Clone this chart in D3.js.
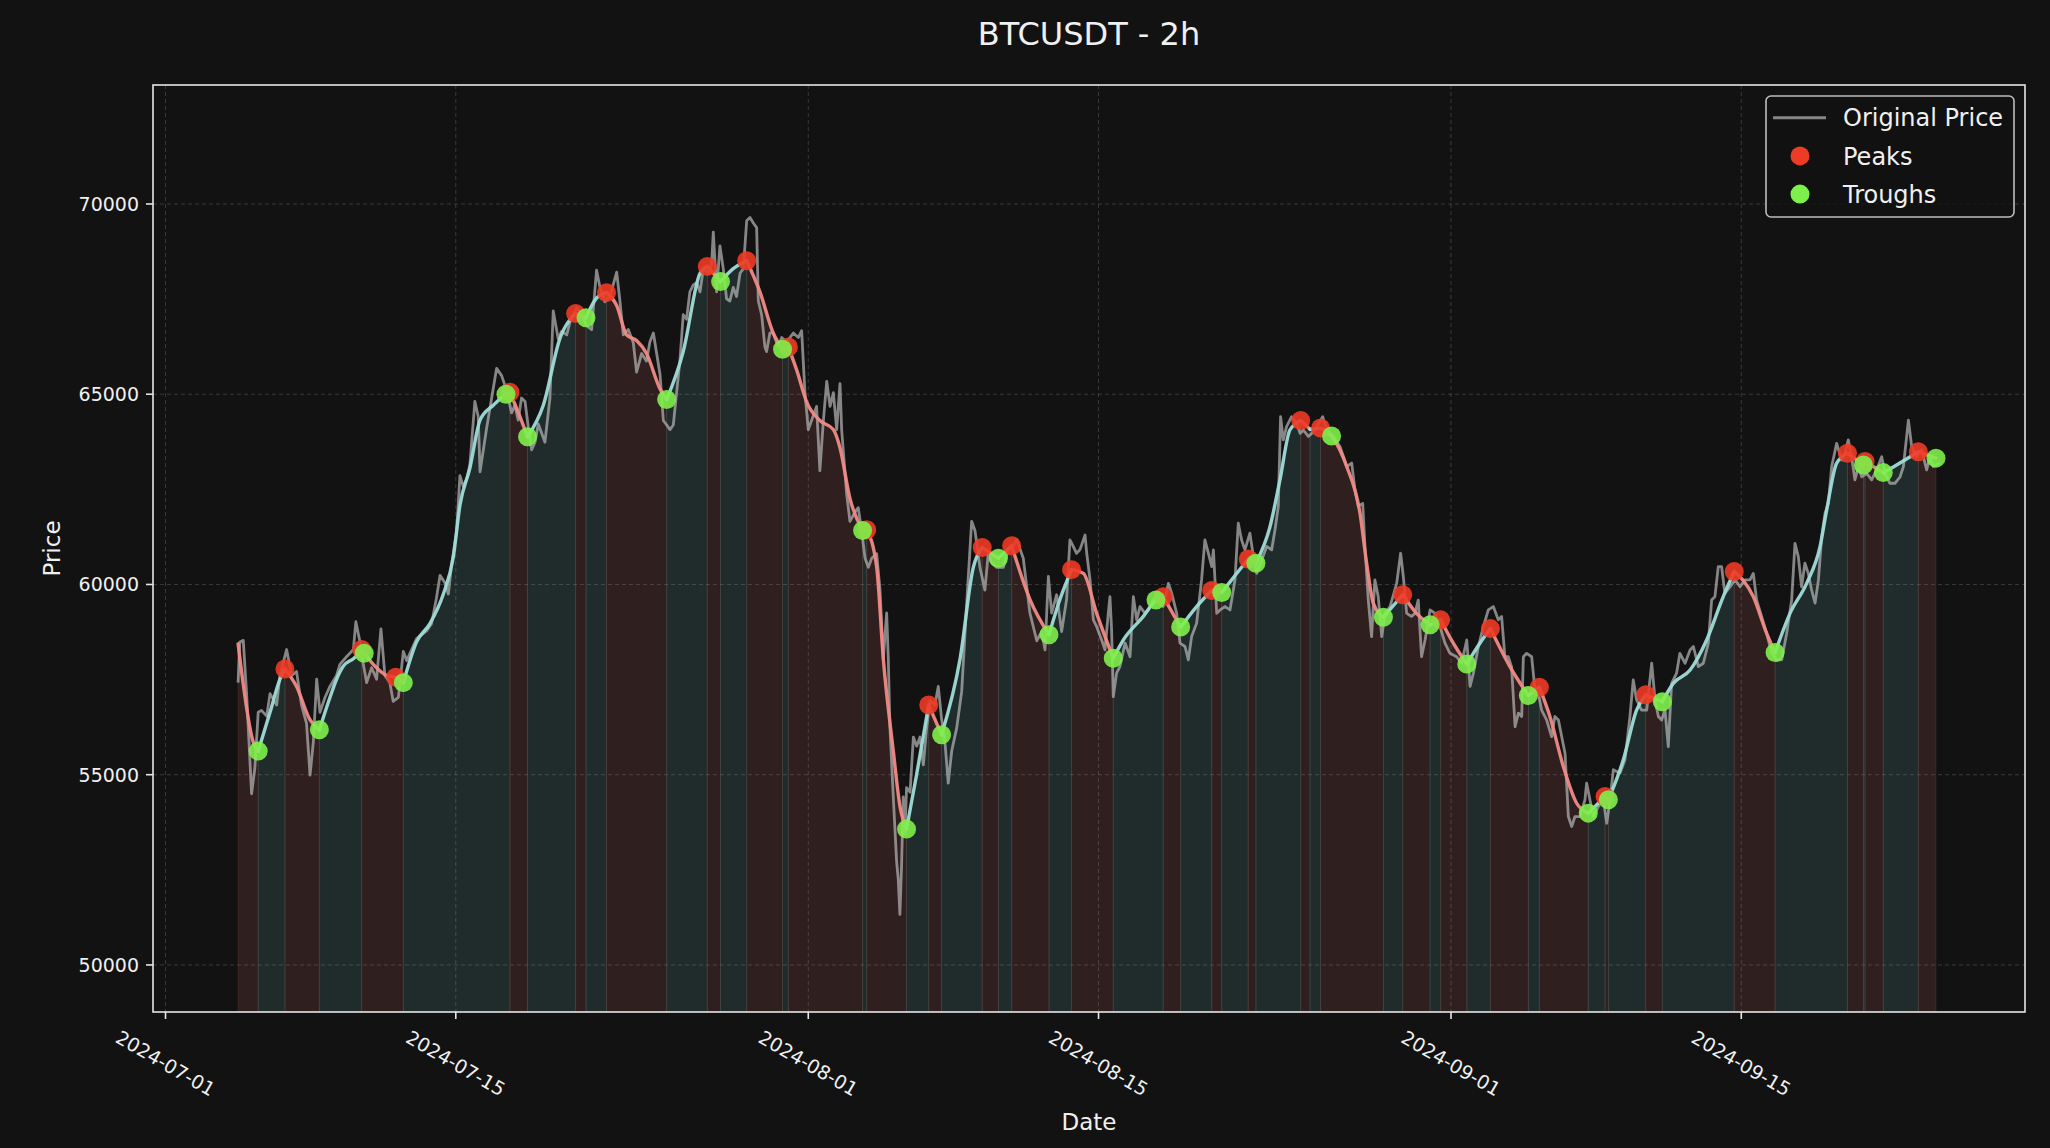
<!DOCTYPE html>
<html><head><meta charset="utf-8">
<script src="https://cdn.jsdelivr.net/npm/d3@7"></script>
<style>
html,body{margin:0;padding:0;background:#121212;}
svg{display:block;font-family:"DejaVu Sans",sans-serif;}
</style></head><body>
<svg id="chart" width="2050" height="1148"></svg>
<script>
// ---------------- data ----------------
const chartTitle = "BTCUSDT - 2h";
const xAxisLabel = "Date";
const yAxisLabel = "Price";
const dayZero = "2024-07-01T00:00:00Z"; // all *Days arrays are days since this instant

const priceDays = [3.50,3.58,3.75,3.91,4.15,4.31,4.47,4.63,4.88,5.04,5.36,5.52,5.84,6.08,6.32,6.56,6.80,6.97,7.13,7.29,7.45,7.69,7.93,8.25,8.41,8.73,9.06,9.18,9.38,9.54,9.70,9.94,10.18,10.39,10.58,10.82,10.98,11.23,11.47,11.63,11.87,12.11,12.35,12.59,12.83,13.07,13.24,13.48,13.64,13.80,14.04,14.20,14.36,14.52,14.68,14.92,15.08,15.17,15.33,15.49,15.73,15.97,16.21,16.45,16.69,16.85,17.01,17.17,17.34,17.50,17.66,17.82,17.98,18.30,18.54,18.70,18.94,19.10,19.35,19.51,19.83,20.07,20.31,20.55,20.79,20.95,21.19,21.44,21.76,21.92,22.08,22.32,22.56,22.72,22.96,23.20,
23.36,23.53,23.85,24.01,24.17,24.33,24.49,24.65,24.81,24.97,25.13,25.29,25.45,25.62,25.78,25.94,26.18,26.34,26.42,26.58,26.74,26.90,27.06,27.22,27.38,27.54,27.71,27.87,28.03,28.19,28.35,28.51,28.59,28.75,28.91,28.99,29.15,29.31,29.55,29.72,29.96,30.28,30.52,30.68,30.84,31.00,31.16,31.40,31.56,31.73,31.89,32.05,32.21,32.37,32.53,32.61,32.85,33.01,33.25,33.41,33.57,33.74,33.90,34.06,34.30,34.46,34.62,34.78,34.86,34.94,35.10,35.26,35.34,35.42,35.50,35.58,35.66,35.74,35.91,36.07,36.23,36.39,36.55,36.71,36.87,37.11,37.27,37.43,37.59,37.75,37.92,38.16,38.40,38.64,38.88,39.04,39.28,39.52,39.68,39.84,40.09,40.41,40.65,40.81,41.05,41.37,41.69,42.02,42.26,42.42,42.58,42.74,42.98,43.22,43.46,43.62,
43.78,43.94,44.10,44.35,44.43,44.59,44.75,44.91,45.15,45.31,45.47,45.55,45.63,45.71,45.87,46.03,46.28,46.52,46.68,46.84,47.00,47.24,47.40,47.64,47.88,48.12,48.37,48.53,48.77,48.93,49.17,49.33,49.49,49.73,49.97,50.13,50.30,50.46,50.54,50.70,50.86,51.10,51.34,51.58,51.74,51.90,52.06,52.30,52.47,52.63,52.87,53.11,53.35,53.51,53.67,53.78,53.91,54.07,54.31,54.56,54.72,54.88,55.12,55.28,55.52,55.81,56.00,56.32,56.65,56.97,57.21,57.37,57.53,57.74,57.85,58.01,58.17,58.33,58.49,58.66,58.82,59.06,59.38,59.57,59.70,59.86,60.10,60.26,60.42,60.58,60.75,60.99,61.23,61.47,61.71,61.95,62.27,62.51,62.76,62.92,63.08,63.32,63.56,63.80,
64.04,64.28,64.44,64.60,64.76,64.92,65.09,65.25,65.41,65.49,65.65,65.89,66.05,66.21,66.37,66.61,66.85,67.01,67.18,67.34,67.50,67.66,67.82,67.98,68.22,68.46,68.54,68.70,68.86,69.10,69.35,69.51,69.67,69.83,70.15,70.39,70.63,70.79,70.95,71.19,71.44,71.68,71.84,72.00,72.16,72.32,72.48,72.64,72.88,73.04,73.29,73.53,73.69,73.93,74.17,74.41,74.57,74.73,74.89,75.05,75.21,75.46,75.70,75.94,76.18,76.42,76.58,76.74,76.98,77.22,77.47,77.71,77.95,78.19,78.43,78.59,78.75,78.91,79.07,79.23,79.39,79.56,79.72,79.88,80.04,80.20,80.36,80.60,80.84,81.00,81.16,81.32,81.48,81.65,81.81,82.05,82.29,82.53,82.77,82.93,83.17,83.41,83.66,83.82,84.06,84.22,84.46,84.70,84.94,85.10,85.26,85.58];
const priceValues = [57420,58490,58530,57130,54500,55180,56640,56690,56540,57130,56830,57610,58290,57610,57710,56830,56350,54990,55860,57510,56640,57030,57320,57610,57900,58100,58290,59020,58490,57900,57420,57810,57510,58830,57610,57420,56930,57030,58240,58000,58290,58580,58680,58780,58970,59650,60240,60040,59750,60530,61400,62860,62570,62760,63150,64810,64420,62960,63540,64120,64900,65680,65490,65100,64510,64710,64320,64900,64810,64120,63540,63740,64220,63740,64900,67190,66460,66650,66560,66900,67280,67090,66800,66700,68260,67820,67430,67580,68210,67430,66560,66700,66360,65580,66070,65870,
66370,66610,65520,64310,64190,64070,64190,65040,65880,67090,66970,67690,67870,67930,67690,68300,68180,68420,69260,67690,68900,68300,67510,67450,67810,67570,68180,68300,69560,69645,69500,69380,67450,67090,66240,66120,66610,66610,66240,66490,66370,66610,66490,66670,65040,64070,64310,64680,62990,64310,65340,64680,65040,64070,65280,64070,62380,61660,61900,62020,61420,60690,60450,60690,60810,59850,58040,59250,58040,56230,54420,52730,52250,51330,52610,54420,53450,54660,54540,55990,55750,55990,55260,56230,56950,56830,57320,56470,55870,54780,55630,56230,57190,59490,61660,61420,60450,59850,60810,60570,60450,60450,60940,60940,61180,60690,59250,58520,58760,58280,60210,59250,59730,58760,59610,61170,
61000,60820,60910,61300,60820,60120,59070,58890,58540,58280,59240,59680,58810,57050,57670,57840,58460,58100,59680,59070,59420,59240,59330,59590,59770,59420,60030,59770,59240,58460,58370,58020,58630,58980,60120,61170,60820,60470,60910,59240,59330,59420,59330,60120,61610,61170,60910,61350,60730,60290,60640,61000,60910,61430,62050,64410,63800,64150,64410,64240,63970,64060,63890,63970,64150,64410,64060,63890,63620,63100,63190,62480,62050,62130,61000,59590,58630,60120,59680,58630,59240,59420,60030,60820,60210,59240,59160,59240,59590,58100,58540,59330,59240,58890,58460,58190,58100,57930,58540,57320,57670,58370,58890,59330,
59420,59070,59160,58100,58100,57840,56260,56620,56530,58100,58190,58100,57230,57140,56700,56440,56000,56530,56440,56000,55560,53900,53640,53900,53900,54340,54780,54340,53900,54160,54340,53720,54340,55130,55040,55390,56530,57490,56970,56700,56700,57930,56970,56530,56440,56700,55740,57400,57670,58190,57930,58280,58370,57840,57930,58450,59590,59680,60470,60470,59770,59940,60120,59940,60120,60120,60290,59590,59160,58720,58190,58020,58020,58720,59590,61080,60730,59940,60560,60290,59860,59510,60120,61260,61870,62130,63100,63710,63270,63450,63800,63360,62750,63100,62830,62920,62750,63010,63360,62920,62660,62660,62830,63100,64320,63620,63360,63540,63010,63360,63100,63190];

const smoothDays = [3.50,4.23,4.47,5.04,5.52,5.76,6.32,6.97,7.42,7.93,8.25,8.57,9.06,9.46,9.58,10.02,10.66,11.10,11.47,12.11,12.75,13.40,13.88,14.20,14.68,15.17,15.81,16.42,16.61,17.09,17.46,18.22,19.02,19.78,20.28,20.79,21.27,21.76,22.24,22.72,23.20,23.85,24.17,24.97,25.78,26.13,26.77,27.38,28.03,28.67,29.31,29.76,30.04,30.44,30.92,31.56,32.21,32.53,33.01,33.62,33.82,34.30,34.62,35.10,35.42,35.74,36.23,36.81,37.43,38.32,38.96,39.39,40.17,40.81,41.69,42.61,43.14,43.70,44.27,44.91,45.71,46.19,47.16,47.77,48.12,48.96,49.73,50.46,50.94,51.66,52.22,52.59,53.27,53.75,54.23,54.75,55.20,55.71,56.24,56.97,57.61,57.93,58.25,58.74,59.67,60.34,60.99,61.50,62.11,62.76,63.40,63.90,64.84,65.73,66.26,66.77,67.42,68.06,68.62,69.43,69.59,70.31,70.95,71.39,72.19,72.72,73.53,74.33,75.13,75.66,76.58,77.22,77.63,78.35,79.15,79.80,80.12,80.60,81.12,81.89,81.97,82.85,83.49,84.54,85.39];
const smoothValues = [58440,55860,55620,56640,57510,57780,57320,56440,56180,57030,57510,57850,58050,58260,58190,57900,57610,57560,57420,58490,58970,59750,60720,62080,63060,64320,64710,65000,65050,64420,63880,64710,66460,67120,67010,67530,67670,67330,66560,66410,66070,65140,64860,66120,68180,68360,67960,68300,68510,67690,66610,66180,66240,65640,64800,64310,64070,63590,62260,61420,61440,60450,58040,55630,54180,53570,55020,56830,56050,58040,60450,60970,60690,61020,59610,58680,59610,60390,60290,59240,58060,58540,59160,59590,59680,58880,59420,59840,59790,60290,60670,60560,61520,62750,64060,64310,64080,64110,63900,63100,61870,60560,59510,59140,59730,59240,58940,59070,58460,57910,58460,58840,57840,57080,57300,56530,55210,54250,53990,54430,54340,55390,56700,57100,56920,57400,57750,58540,59680,60340,59680,58720,58210,59240,60030,61000,61960,63190,63450,63140,63230,62940,63140,63490,63320];

const peakDays = [5.76,9.46,11.10,16.61,19.78,21.27,26.13,28.03,30.04,33.82,36.81,39.39,40.81,43.70,48.12,50.46,52.22,54.75,55.71,59.67,61.50,63.90,66.26,69.43,71.39,75.66,81.12,81.97,84.54];
const peakValues = [57780,58290,57560,65050,67120,67670,68360,68510,66240,61440,56830,60970,61020,60390,59680,59840,60670,64310,64110,59730,59070,58840,57300,54430,57100,60340,63450,63230,63490];

const troughDays = [4.47,7.42,9.58,11.47,16.42,17.46,20.28,24.17,26.77,29.76,33.62,35.74,37.43,40.17,42.61,45.71,47.77,48.96,50.94,52.59,56.24,58.74,60.99,62.76,65.73,68.62,69.59,72.19,77.63,81.89,82.85,85.39];
const troughValues = [55620,56180,58190,57420,65000,63880,67010,64860,67960,66180,61420,53570,56050,60690,58680,58060,59590,58880,59790,60560,63900,59140,58940,57910,57080,53990,54340,56920,58210,63140,62940,63320];

const xTickLabels = ["2024-07-01","2024-07-15","2024-08-01","2024-08-15","2024-09-01","2024-09-15"];
const yTickValues = [50000,55000,60000,65000,70000];
const legendLabels = ["Original Price","Peaks","Troughs"];

// ---------------- styles / layout ----------------
const W = 2050, H = 1148;
const plot = {left:153, right:2025, top:85, bottom:1012};
const C = {
  bg:"#121212", fg:"#f0f0f0", spine:"#e6e6e6", grid:"#5a5a5a",
  price:"#b8b8b8", up:"#9fdcd8", down:"#f08a86",
  upFill:"#7fd8d2", downFill:"#f07a72",
  peak:"#ee3b25", trough:"#7ef04b"
};

const base = new Date(dayZero).getTime();
const toDate = d => new Date(base + d*864e5);

const svg = d3.select("#chart");
svg.append("rect").attr("width",W).attr("height",H).attr("fill",C.bg);

const t0 = d3.min(priceDays), t1 = d3.max(priceDays), span = t1 - t0;
const x = d3.scaleTime()
  .domain([toDate(t0 - 0.05*span), toDate(t1 + 0.05*span)])
  .range([plot.left, plot.right]);
const vMin = d3.min(priceValues), vMax = d3.max(priceValues);
const y = d3.scaleLinear().domain([vMin*0.95, vMax*1.05]).range([plot.bottom, plot.top]);

svg.append("defs").append("clipPath").attr("id","clip")
  .append("rect").attr("x",plot.left).attr("y",plot.top)
  .attr("width",plot.right-plot.left).attr("height",plot.bottom-plot.top);

// grid
const xTickDates = xTickLabels.map(s => new Date(s+"T00:00:00Z"));
const grid = svg.append("g");
grid.selectAll("line.gx").data(xTickDates).join("line")
  .attr("x1",d=>x(d)).attr("x2",d=>x(d)).attr("y1",plot.top).attr("y2",plot.bottom)
  .attr("stroke",C.grid).attr("stroke-width",1).attr("stroke-opacity",0.55).attr("stroke-dasharray","4,3");
grid.selectAll("line.gy").data(yTickValues).join("line")
  .attr("x1",plot.left).attr("x2",plot.right).attr("y1",d=>y(d)).attr("y2",d=>y(d))
  .attr("stroke",C.grid).attr("stroke-width",1).attr("stroke-opacity",0.55).attr("stroke-dasharray","4,3");

// smoothed runs by trend direction
const sm = smoothDays.map((d,i)=>({t:toDate(d), v:smoothValues[i]}));
const runs = [];
for (let i=0;i<sm.length-1;i++){
  const up = sm[i+1].v >= sm[i].v;
  if (runs.length && runs[runs.length-1].up===up) runs[runs.length-1].pts.push(sm[i+1]);
  else runs.push({up, pts:[sm[i], sm[i+1]]});
}
const g = svg.append("g").attr("clip-path","url(#clip)");
const area = d3.area().x(d=>x(d.t)).y0(plot.bottom).y1(d=>y(d.v)).curve(d3.curveMonotoneX);
g.selectAll("path.band").data(runs).join("path")
  .attr("d",r=>area(r.pts))
  .attr("fill",r=>r.up?C.upFill:C.downFill).attr("fill-opacity",0.135)
  .attr("stroke",r=>r.up?C.upFill:C.downFill).attr("stroke-opacity",0.12).attr("stroke-width",1);

// original price
const pr = priceDays.map((d,i)=>({t:toDate(d), v:priceValues[i]}));
g.append("path").datum(pr)
  .attr("d", d3.line().x(d=>x(d.t)).y(d=>y(d.v)))
  .attr("fill","none").attr("stroke",C.price).attr("stroke-opacity",0.7)
  .attr("stroke-width",2.8).attr("stroke-linejoin","round");

// smoothed trend line
const sline = d3.line().x(d=>x(d.t)).y(d=>y(d.v)).curve(d3.curveMonotoneX);
g.selectAll("path.trend").data(runs).join("path")
  .attr("d",r=>sline(r.pts)).attr("fill","none")
  .attr("stroke",r=>r.up?C.up:C.down).attr("stroke-width",3.4).attr("stroke-opacity",0.95)
  .attr("stroke-linecap","round");

// markers
g.selectAll("circle.pk").data(peakDays).join("circle")
  .attr("cx",(d)=>x(toDate(d))).attr("cy",(d,i)=>y(peakValues[i])).attr("r",9.5)
  .attr("fill",C.peak).attr("fill-opacity",0.9);
g.selectAll("circle.tr").data(troughDays).join("circle")
  .attr("cx",(d)=>x(toDate(d))).attr("cy",(d,i)=>y(troughValues[i])).attr("r",9.5)
  .attr("fill",C.trough).attr("fill-opacity",0.9);

// spines
svg.append("rect").attr("x",plot.left).attr("y",plot.top)
  .attr("width",plot.right-plot.left).attr("height",plot.bottom-plot.top)
  .attr("fill","none").attr("stroke",C.spine).attr("stroke-width",1.6);

// y ticks
const yt = svg.append("g");
yt.selectAll("line").data(yTickValues).join("line")
  .attr("x1",plot.left-7).attr("x2",plot.left).attr("y1",d=>y(d)).attr("y2",d=>y(d))
  .attr("stroke",C.spine).attr("stroke-width",1.6);
yt.selectAll("text").data(yTickValues).join("text")
  .attr("x",plot.left-14).attr("y",d=>y(d)+7)
  .attr("text-anchor","end").attr("font-size",19).attr("fill",C.fg).text(d=>d);

// x ticks
const xt = svg.append("g");
xt.selectAll("line").data(xTickDates).join("line")
  .attr("x1",d=>x(d)).attr("x2",d=>x(d)).attr("y1",plot.bottom).attr("y2",plot.bottom+7)
  .attr("stroke",C.spine).attr("stroke-width",1.6);
const rot = 30, fsx = 19;
xt.selectAll("text").data(xTickLabels).join("text")
  .attr("font-size",fsx).attr("fill",C.fg).attr("text-anchor","middle")
  .text(d=>d)
  .each(function(d,i){
    const L = this.getComputedTextLength();
    const th = fsx*1.17;
    const bh = L*Math.sin(rot*Math.PI/180) + th*Math.cos(rot*Math.PI/180);
    const cx = x(xTickDates[i]), cy = plot.bottom + 14 + bh/2;
    d3.select(this).attr("x",cx).attr("y",cy + fsx*0.36)
      .attr("transform",`rotate(${rot},${cx},${cy})`);
  });

// axis labels & title
svg.append("text").attr("x",(plot.left+plot.right)/2).attr("y",1130)
  .attr("text-anchor","middle").attr("font-size",23).attr("fill",C.fg).text(xAxisLabel);
svg.append("text").attr("transform",`translate(60,${(plot.top+plot.bottom)/2}) rotate(-90)`)
  .attr("text-anchor","middle").attr("font-size",23).attr("fill",C.fg).text(yAxisLabel);
svg.append("text").attr("x",(plot.left+plot.right)/2).attr("y",45)
  .attr("text-anchor","middle").attr("font-size",32).attr("fill",C.fg).text(chartTitle);

// legend
const lg = svg.append("g");
lg.append("rect").attr("x",1766).attr("y",96).attr("width",248).attr("height",121).attr("rx",5)
  .attr("fill",C.bg).attr("fill-opacity",0.8).attr("stroke","#bdbdbd").attr("stroke-width",1.6);
const rows = [117.7,155.9,194.1];
lg.append("line").attr("x1",1773).attr("x2",1826).attr("y1",rows[0]).attr("y2",rows[0])
  .attr("stroke",C.price).attr("stroke-opacity",0.7).attr("stroke-width",3);
lg.append("circle").attr("cx",1800).attr("cy",rows[1]).attr("r",9.5).attr("fill",C.peak);
lg.append("circle").attr("cx",1800).attr("cy",rows[2]).attr("r",9.5).attr("fill",C.trough);
lg.selectAll("text").data(legendLabels).join("text")
  .attr("x",1843).attr("y",(d,i)=>rows[i]+8.6).attr("font-size",24).attr("fill",C.fg).text(d=>d);
</script>
</body></html>
